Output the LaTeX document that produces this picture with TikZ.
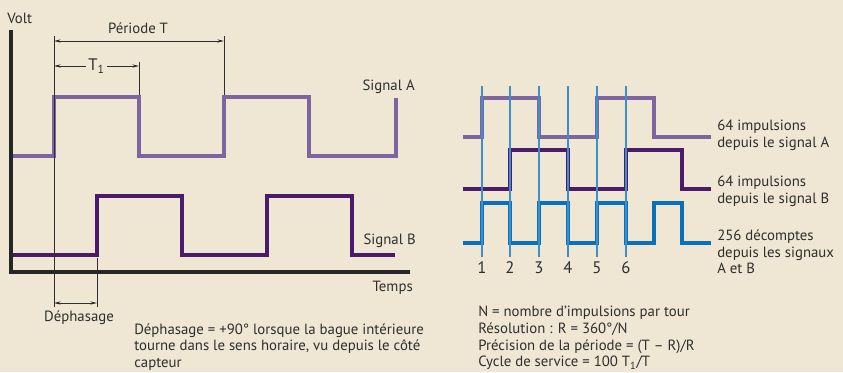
\documentclass[tikz,border=0pt]{standalone}
\usepackage{fontspec}
\setmainfont{PT Sans}
\usepackage{xcolor}
\usepackage{tikz}
\usetikzlibrary{arrows.meta}

\definecolor{fond}{HTML}{EFE7D3}
\definecolor{violetA}{HTML}{7F65A0}
\definecolor{violetB}{HTML}{4A1A6B}
\definecolor{bleuC}{HTML}{0A70BA}
\definecolor{bleuT}{HTML}{3C8FCB}
\definecolor{trait}{HTML}{2E2E2E}

\begin{document}
\begin{tikzpicture}[x=0.75pt, y=-0.75pt,
	every node/.style={inner sep=0pt, text=trait, font=\fontsize{11.1}{12.5}\selectfont},
	sigA/.style={draw=violetA, line width=3.6pt},
	sigB/.style={draw=violetB, line width=3.6pt},
	sigC/.style={draw=bleuC, line width=3pt},
	axe/.style={draw=black!85, line width=2.4pt},
	cote/.style={draw=trait, line width=0.6pt},
	fleche/.style={cote, {Stealth[length=5pt,width=2.4pt]}-{Stealth[length=5pt,width=2.4pt]}},
	repere/.style={draw=bleuT, line width=0.8pt}]
			\useasboundingbox[fill=fond] (0,0) rectangle (843,372);

			% Axes and signals A / B
			\draw[axe] (11,30) -- (11,272) -- (410,272);
			\draw[sigA] (13,156) -- (54,156) -- (54,97) -- (139,97) -- (139,156) -- (224,156) -- (224,97) -- (309,97) -- (309,156) -- (396,156) -- (396,98);
			\draw[sigB] (13,255) -- (97,255) -- (97,196) -- (182,196) -- (182,255) -- (267,255) -- (267,196) -- (352,196) -- (352,255) -- (395,255);

			\node[anchor=west] (volt) at (7,18) {Volt};
			\node[anchor=east] (sa) at (415,87) {Signal A};
			\node[anchor=east] (sb) at (416,241) {Signal B};
			\node[anchor=east] (temps) at (413,288) {Temps};

			% Dimension lines
			\draw[cote] (54,36) -- (54,307);
			\draw[cote] (224,36) -- (224,95);
			\draw[cote] (139,62) -- (139,95);
			\draw[cote] (97,258) -- (97,307);

			\coordinate (pA) at (54,41);
			\coordinate (pB) at (224,41);
			\coordinate (tA) at (54,66);
			\coordinate (tB) at (139,66);
			\coordinate (dA) at (54,303);
			\coordinate (dB) at (97,303);

			\draw[fleche] (pA) -- (pB);
			\draw[fleche] (tA) -- node[fill=fond, inner xsep=1.5pt, font=\fontsize{12.5}{14}\selectfont] (t1) {T\textsubscript{1}} (tB);
			\draw[fleche] (dA) -- (dB);

			\node (periode) at (138,28) {Période T};
			\node (dephasage) at (79,318) {Déphasage};
			\node[anchor=west, align=left] (remarque) at (134,347) {Déphasage = +90° lorsque la bague intérieure\\tourne dans le sens horaire, vu depuis le côté\\capteur};

			% Signals A, B and counts
			\draw[sigA] (463,137) -- (482,137) -- (482,98) -- (539,98) -- (539,137) -- (597,137) -- (597,98) -- (654,98) -- (654,137) -- (711,137);
			\draw[sigB] (463,189) -- (510,189) -- (510,150) -- (568,150) -- (568,189) -- (626,189) -- (626,150) -- (682,150) -- (682,189) -- (711,189);
			\draw[sigC] (463,243) -- (482,243) -- (482,203) -- (510,203) -- (510,243) -- (539,243) -- (539,203) -- (568,203) -- (568,243) -- (597,243) -- (597,203) -- (626,203) -- (626,243) -- (654,243) -- (654,203) -- (682,203) -- (682,243) -- (711,243);

			\foreach \i/\x in {1/482, 2/510, 3/539, 4/568, 5/597, 6/626} {
				\draw[repere] (\x,86) -- (\x,257);
				\node[font=\fontsize{12.5}{14}\selectfont] (n\i) at (\x,268) {\i};
			}

			\node[anchor=west, align=left] (impA) at (717,135) {64 impulsions\\depuis le signal A};
			\node[anchor=west, align=left] (impB) at (717,191) {64 impulsions\\depuis le signal B};
			\node[anchor=west, align=left] (decompte) at (717,252) {256 décomptes\\depuis les signaux\\A et B};
			\node[anchor=west, align=left] (formules) at (478,338) {N = nombre d’impulsions par tour\\Résolution : R = 360°/N\\Précision de la période = (T – R)/R\\Cycle de service = 100 T\textsubscript{1}/T};
		\end{tikzpicture}
\end{document}
